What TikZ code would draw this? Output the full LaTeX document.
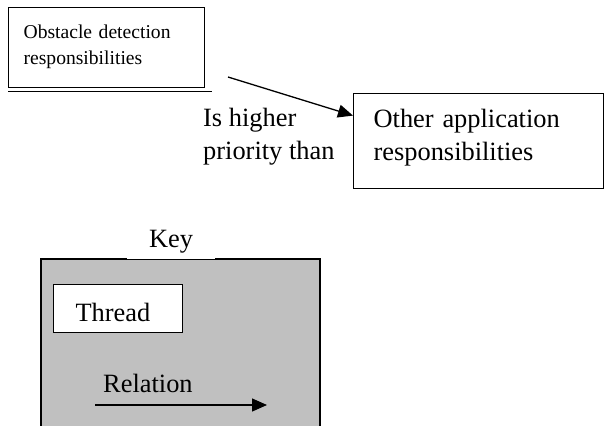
\documentclass[tikz,border=0pt]{standalone}
\usepackage{fontspec}
\setmainfont{Liberation Serif}
\usetikzlibrary{positioning,arrows.meta}

\tikzset{
  respbox/.style={draw, line width=1.2pt, rectangle, align=left, inner ysep=0pt},
  smalltext/.style={font=\fontsize{19.6}{26}\selectfont},
  bigtext/.style={font=\fontsize{26.4}{33}\selectfont},
  relarrow/.style={line width=1.3pt, -{Triangle[length=15pt,width=13pt]}},
}

\begin{document}
\begin{tikzpicture}[x=1pt, y=-1pt]
   \useasboundingbox (0,0) rectangle (606,426);

   % responsibilities
   \node[respbox, smalltext, anchor=north west, inner xsep=15pt, text width=166pt,
         minimum width=196pt, minimum height=80pt] (obst) at (8,7)
         {Obstacle detection\\responsibilities\rule[-6.5pt]{0pt}{0pt}};
   \draw[line width=1.2pt] ([yshift=-3pt]obst.south west) -- ++(204,0);

   \node[respbox, bigtext, anchor=north west, inner xsep=20pt, text width=210pt,
         minimum width=250pt, minimum height=95pt] (other) at (353,93)
         {Other application\\responsibilities\rule[-12pt]{0pt}{0pt}};

   \coordinate (prioStart) at (228,77);
   \draw[relarrow] (prioStart) -- ([yshift=25.5pt]other.west);
   \node[bigtext, align=left, anchor=north west, inner sep=0pt] (prio) at (203,108)
         {Is higher\\priority than};

   % key
   \draw[line width=1.2pt, fill={rgb,255:red,192;green,192;blue,192}]
         (41,426) -- (41,259) -- (320,259) -- (320,426);
   \node[bigtext, fill=white, anchor=base, inner sep=0pt, minimum width=88pt,
         text height=18pt, text depth=11.5pt] (key) at (171,247) {Key};

   \node[respbox, bigtext, fill=white, anchor=north west, inner xsep=22pt,
         text width=85pt, minimum height=48pt, text height=26pt, text depth=0pt]
         (thread) at (53,284) {Thread};

   \node[bigtext, anchor=base west, inner sep=0pt] (rel) at (103,392) {Relation};
   \coordinate (relA) at (95,405);
   \coordinate (relB) at (267,405);
   \draw[relarrow] (relA) -- (relB);
\end{tikzpicture}
\end{document}
